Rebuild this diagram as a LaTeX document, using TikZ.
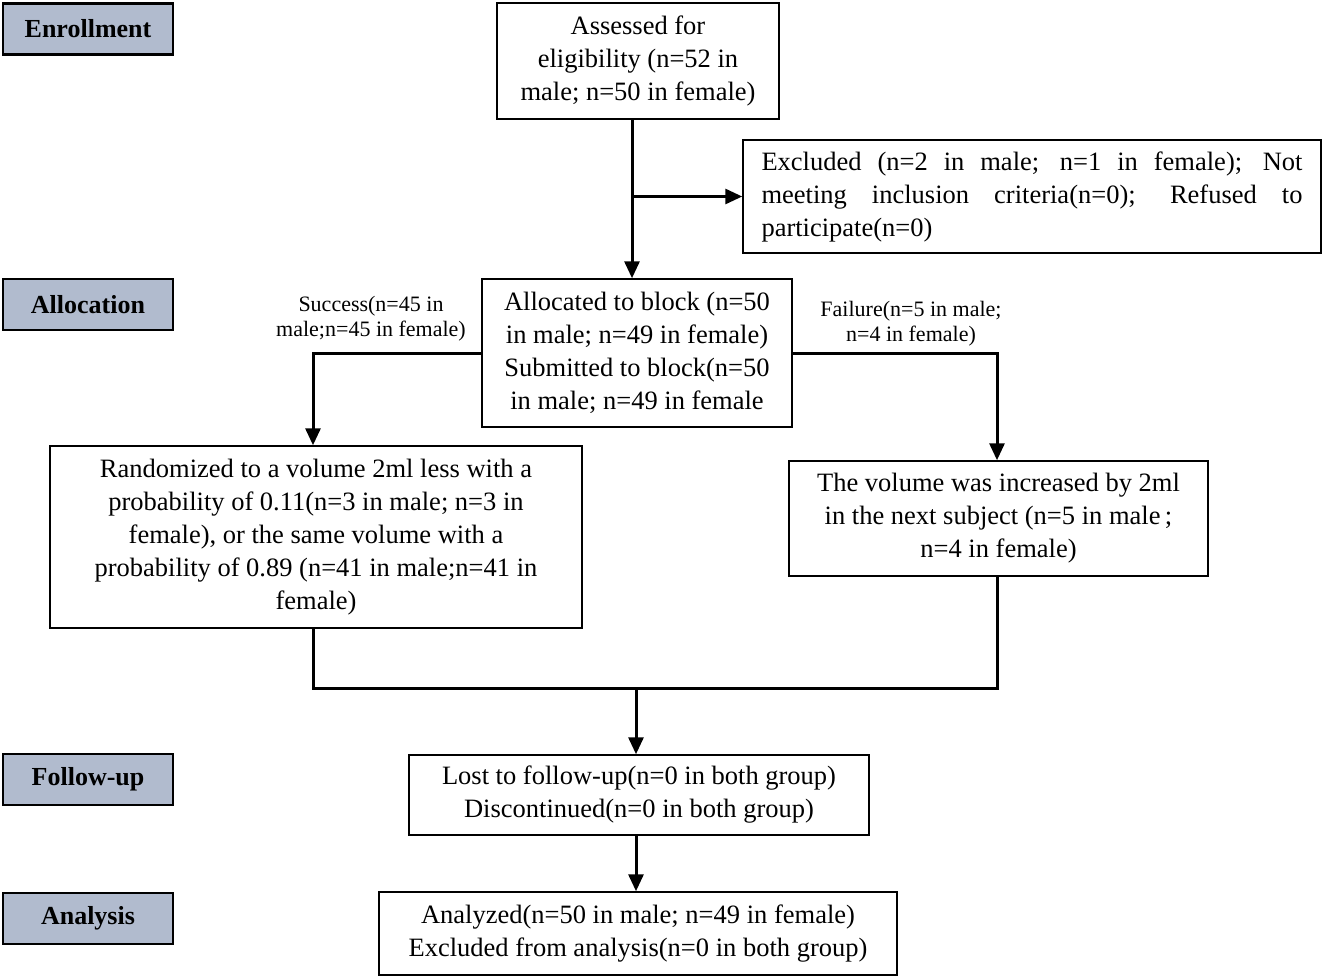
\documentclass[tikz,border=0pt]{standalone}
\usepackage{fontspec}
\setmainfont{Liberation Serif}
\usepackage{tikz}
\usetikzlibrary{arrows.meta}

\definecolor{stagegray}{RGB}{177,187,206}

\tikzset{
    box/.style={draw, line width=1.5pt, align=center, inner sep=0pt,
        font=\fontsize{26.5}{33}\selectfont},
    stage/.style={draw, line width=2.5pt, fill=stagegray, inner sep=0pt,
        minimum width=170pt, minimum height=51pt,
        font=\fontsize{26}{30}\selectfont\bfseries},
    branchlabel/.style={align=center, inner sep=0pt,
        font=\fontsize{22}{25}\selectfont},
    flow/.style={line width=3pt},
    arr/.style={line width=3pt, -{Triangle[length=17pt,width=15pt]}}
}

\begin{document}
\begin{tikzpicture}[x=1pt,y=-1pt]
    \useasboundingbox (0,0) rectangle (1325,979);

    % draw stage labels
    \node[stage] (enroll) at (88,29) {Enrollment};
    \node[stage] (alloc) at (88,304.5) {Allocation};
    \node[stage] (follow) at (88,779.5) {Follow-up};
    \node[stage] (analysis) at (88,918.5) {Analysis};

    % draw boxes
    \node[box, minimum width=282pt, minimum height=116pt] (assess) at (638,61)
        {Assessed for\\eligibility (n=52 in\\male; n=50 in female)};
    \node[box, minimum width=578pt, minimum height=113pt, text width=541pt,
        align=justify] (excl) at (1032,196.5)
        {\hyphenpenalty=10000 Excluded (n=2 in male; n=1 in female); Not\linebreak
         meeting inclusion criteria(n=0); Refused to\linebreak
         participate(n=0)};
    \node[box, minimum width=310pt, minimum height=148pt] (block) at (637,353)
        {Allocated to block (n=50\\in male; n=49 in female)\\Submitted to block(n=50\\in male; n=49 in female};
    \node[box, minimum width=532pt, minimum height=182pt] (rand) at (316,537)
        {Randomized to a volume 2ml less with a\\probability of 0.11(n=3 in male; n=3 in\\female), or the same volume with a\\probability of 0.89 (n=41 in male;n=41 in\\female)};
    \node[box, minimum width=419pt, minimum height=115pt] (vol) at (998.5,518.5)
        {The volume was increased by 2ml\\in the next subject (n=5 in male\,;\\n=4 in female)};
    \node[box, minimum width=460pt, minimum height=80pt] (lost) at (639,795)
        {Lost to follow-up(n=0 in both group)\\Discontinued(n=0 in both group)};
    \node[box, minimum width=518pt, minimum height=83pt] (anal) at (638,933.5)
        {Analyzed(n=50 in male; n=49 in female)\\Excluded from analysis(n=0 in both group)};

    % draw branch labels
    \node[branchlabel] (succ) at (371,318.5) {Success(n=45 in\\male;n=45 in female)};
    \node[branchlabel] (fail) at (911,323.5) {Failure(n=5 in male;\\n=4 in female)};

    % draw arrows
    \draw[arr] ([xshift=-6pt]assess.south) -- ([xshift=-5pt]block.north);
    \draw[arr] ([xshift=-6pt]assess.south |- excl.west) -- (excl.west);
    \draw[arr] (block.west) -| ([xshift=-3pt]rand.north);
    \draw[arr] (block.east) -| ([xshift=-1.5pt]vol.north);

    % draw merge
    \coordinate (merge) at (636,688);
    \draw[flow] ([xshift=-3pt]rand.south) |- (merge) -| ([xshift=-1.5pt]vol.south);
    \draw[arr] (merge) -- (merge |- lost.north);
    \draw[arr] ([xshift=-3pt]lost.south) -- ([xshift=-2pt]anal.north);
\end{tikzpicture}
\end{document}
